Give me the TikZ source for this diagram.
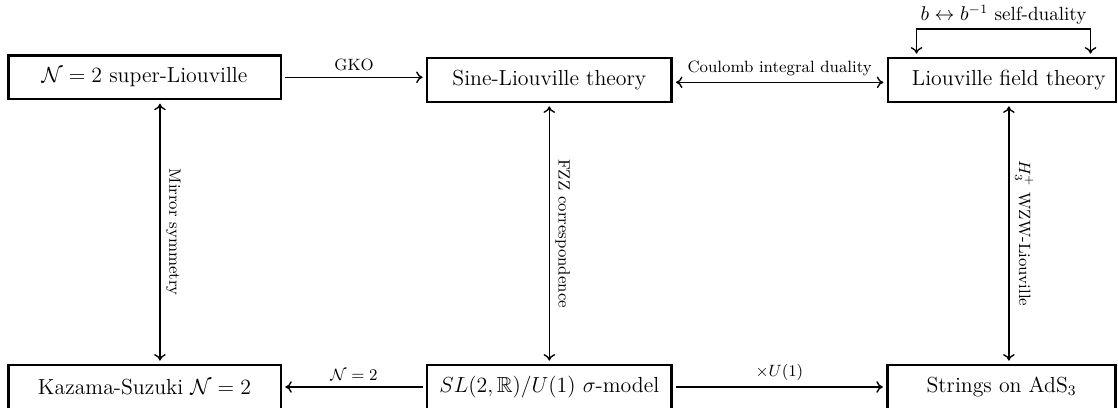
\documentclass[tikz,border=0pt]{standalone}
\usepackage{amsmath,amssymb}
\usetikzlibrary{arrows.meta}
\begin{document}
\begin{tikzpicture}[x=0.55pt,y=-0.55pt,
  box/.style={draw, line width=1.4pt, minimum height=24pt, inner sep=0pt, outer sep=0.7pt,
    font=\fontsize{12}{14}\selectfont},
  arr/.style={line width=0.75pt, shorten <=1.8pt, shorten >=1.8pt},
  tip/.style={-{To[length=3.6pt,width=6.4pt]}},
  tips/.style={{To[length=3.6pt,width=6.4pt]}-{To[length=3.6pt,width=6.4pt]}},
  lab/.style={font=\fontsize{9}{11}\selectfont},
  vlab/.style={font=\fontsize{9}{11}\selectfont, rotate=-90, anchor=south, inner sep=3pt}]
\useasboundingbox (0,0) rectangle (1118,408);
\clip (0,0) rectangle (1118,408);
% nodes
\node[box, minimum width=149.9pt] (b1) at (144.5,77.3) {$\mathcal{N}=2$ super-Liouville};
\node[box, minimum width=134.3pt] (b2) at (549.3,80) {Sine-Liouville theory};
\node[box, minimum width=125.5pt] (b3) at (1002,80) {\kern7.5pt Liouville field theory};
\node[box, minimum width=149.9pt] (b4) at (144.5,387) {Kazama-Suzuki $\mathcal{N}=2$};
\node[box, minimum width=134.3pt] (b5) at (549.3,387) {$SL(2,\mathbb{R})/U(1)$ $\sigma$-model};
\node[box, minimum width=125.5pt] (b6) at (1001.5,387) {Strings on AdS$_3$};
% horizontal connectors
\draw[arr,tip] (b1.east) -- node[lab, above] {GKO} (b2.west |- b1.east);
\draw[arr,tips] ([yshift=-1.3pt]b2.east) -- node[lab, above] {Coulomb integral duality} ([yshift=-1.3pt]b3.west);
\draw[arr,tip] (b5.west) -- node[lab, above] {$\mathcal{N}=2$} (b4.east);
\draw[arr,tip] (b5.east) -- node[lab, above] {$\times U(1)$} (b6.west);
% vertical connectors
\draw[arr,tips] ([xshift=8.5pt]b1.south) -- node[vlab, midway] {Mirror symmetry} ([xshift=8.5pt]b1.south |- b4.north);
\draw[arr,tips] (b2.south) -- node[vlab, midway] {FZZ correspondence} (b2.south |- b5.north);
\draw[arr,tips] ([xshift=3.8pt]b3.south) -- node[vlab, midway] {$H_3^+$ WZW-Liouville} ([xshift=3.8pt]b3.south |- b6.north);
% self-duality loop
\draw[arr,tips] ([xshift=-47pt]b3.north) -- ++(0pt,15.3pt) -| node[pos=0.25, above, inner sep=2pt, font=\fontsize{10.5}{12}\selectfont] {$b\leftrightarrow b^{-1}$ self-duality} ([xshift=48.7pt]b3.north);
\end{tikzpicture}
\end{document}
